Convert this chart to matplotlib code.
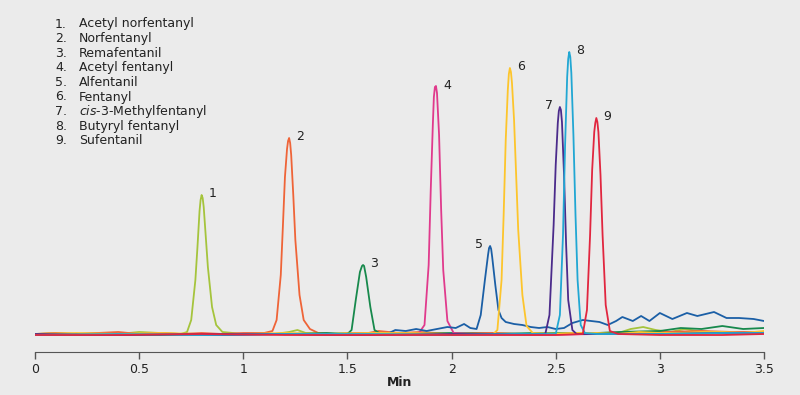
import matplotlib
matplotlib.use("Agg")
import matplotlib.pyplot as plt

plt.rcParams['font.family'] = ['DejaVu Sans']
plt.rcParams['mathtext.fontset'] = 'dejavusans'

# compound names (peak numbers 1..9)
names = ['Acetyl norfentanyl', 'Norfentanyl', 'Remafentanil', 'Acetyl fentanyl',
         'Alfentanil', 'Fentanyl', r'$\mathit{cis}$-3-Methylfentanyl',
         'Butyryl fentanyl', 'Sufentanil']
colors = ['#a5c43c', '#ef6438', '#17894c', '#e03a8c', '#1b5fa6',
          '#fdc52c', '#4b2b8b', '#21a7d3', '#e1263f']

# traces: time (min), signal (arbitrary units)
t1 = [0.0, 0.1, 0.2, 0.3, 0.4, 0.5, 0.6, 0.7, 0.73, 0.75, 0.77, 0.78, 0.79, 0.795, 0.80, 0.805, 0.81, 0.82,
      0.83, 0.85, 0.87, 0.90, 1.0, 1.1, 1.15, 1.22, 1.26, 1.30, 1.4, 1.5, 1.6, 1.7, 1.8, 1.9, 2.0, 2.1, 2.2,
      2.3, 2.4, 2.5, 2.6, 2.7, 2.8, 2.86, 2.92, 2.98, 3.05, 3.12, 3.18, 3.25, 3.35, 3.5]
y1 = [1, 2, 1, 2, 1, 3, 2, 1, 3, 15, 55, 88, 124, 135, 140, 137, 128, 98,
      68, 28, 10, 3, 1, 2, 1, 3, 5, 2, 1, 2, 1, 2, 1, 2, 1, 1, 2,
      1, 1, 2, 2, 1, 2, 6, 8, 5, 3, 6, 4, 3, 2, 3]

t2 = [0.0, 0.1, 0.2, 0.3, 0.4, 0.5, 0.6, 0.7, 0.8, 0.9, 1.0, 1.1, 1.14, 1.16, 1.18, 1.19, 1.20, 1.21,
      1.215, 1.22, 1.225, 1.23, 1.24, 1.25, 1.27, 1.29, 1.32, 1.36, 1.45, 1.55, 1.6, 1.65, 1.75, 1.85, 2.0,
      2.1, 2.2, 2.35, 2.5, 2.65, 2.8, 3.0, 3.2, 3.35, 3.5]
y2 = [1, 2, 1, 2, 3, 1, 2, 1, 2, 1, 2, 2, 4, 15, 60, 108, 158, 186,
      194, 197, 192, 180, 140, 95, 40, 15, 6, 2, 1, 2, 2, 4, 2, 3, 1,
      2, 2, 1, 1, 2, 2, 3, 4, 3, 3]

t3 = [0.0, 0.3, 0.6, 0.9, 1.2, 1.4, 1.5, 1.52, 1.54, 1.56, 1.57, 1.575, 1.58, 1.59, 1.61, 1.63, 1.66, 1.8,
      2.0, 2.2, 2.4, 2.6, 2.8, 3.0, 3.1, 3.2, 3.3, 3.4, 3.5]
y3 = [0, 1, 0, 1, 1, 2, 1, 5, 35, 63, 69, 70, 69, 58, 28, 5, 1, 1,
      2, 1, 2, 1, 3, 4, 7, 6, 9, 6, 7]

t4 = [0.0, 0.3, 0.6, 0.9, 1.2, 1.5, 1.7, 1.84, 1.87, 1.89, 1.90, 1.91, 1.915, 1.92, 1.925, 1.93, 1.94, 1.95,
      1.96, 1.98, 2.01, 2.1, 2.4, 2.7, 3.0, 3.3, 3.5]
y4 = [1, 0, 1, 0, 1, 0, 1, 1, 10, 70, 145, 210, 238, 248, 249, 242, 200, 125,
      65, 14, 2, 1, 0, 1, 1, 2, 2]

t5 = [0.0, 0.3, 0.6, 0.9, 1.2, 1.5, 1.65, 1.70, 1.73, 1.78, 1.83, 1.88, 1.93, 1.98, 2.02, 2.06, 2.09, 2.12,
      2.14, 2.16, 2.175, 2.18, 2.185, 2.19, 2.195, 2.21, 2.225, 2.24, 2.26, 2.30, 2.34, 2.38, 2.42, 2.46,
      2.50, 2.54, 2.58, 2.63, 2.67, 2.71, 2.75, 2.79, 2.82, 2.87, 2.91, 2.95, 3.0, 3.06, 3.13, 3.18, 3.22,
      3.26, 3.32, 3.38, 3.45, 3.5]
y5 = [1, 0, 1, 0, 1, 0, 1, 2, 5, 4, 6, 4, 6, 8, 7, 11, 7, 6,
      20, 55, 80, 87, 89, 86, 78, 50, 25, 17, 13, 11, 10, 8, 7, 8,
      6, 7, 12, 15, 14, 13, 10, 14, 18, 14, 19, 14, 22, 16, 22, 19, 21,
      23, 17, 17, 16, 14]

t6 = [0.0, 0.2, 0.4, 0.6, 0.8, 1.0, 1.2, 1.4, 1.6, 1.8, 2.0, 2.2, 2.22, 2.24, 2.25, 2.26, 2.27, 2.275,
      2.28, 2.285, 2.29, 2.30, 2.31, 2.32, 2.34, 2.36, 2.39, 2.5, 2.6, 2.7, 2.8, 2.9, 3.0, 3.1, 3.2, 3.3,
      3.4, 3.5]
y6 = [1, 2, 1, 2, 1, 1, 2, 1, 2, 2, 1, 1, 5, 55, 120, 195, 245, 261,
      267, 263, 252, 215, 160, 105, 40, 9, 2, 1, 2, 2, 1, 3, 2, 2, 3, 3,
      2, 4]

t7 = [0.0, 0.4, 0.8, 1.2, 1.6, 2.0, 2.3, 2.45, 2.47, 2.49, 2.50, 2.51, 2.515, 2.52, 2.525, 2.53, 2.54, 2.55,
      2.56, 2.58, 2.60, 2.7, 3.0, 3.3, 3.5]
y7 = [1, 0, 1, 1, 0, 1, 1, 1, 20, 110, 170, 212, 224, 228, 225, 213, 160, 90,
      35, 5, 1, 1, 1, 2, 2]

t8 = [0.0, 0.4, 0.8, 1.2, 1.6, 2.0, 2.3, 2.5, 2.52, 2.535, 2.545, 2.555, 2.56, 2.565, 2.57, 2.575, 2.585,
      2.595, 2.605, 2.62, 2.64, 2.7, 3.0, 3.3, 3.5]
y8 = [0, 1, 0, 1, 1, 0, 1, 1, 20, 100, 190, 258, 276, 283, 278, 262, 200,
      120, 55, 10, 2, 1, 1, 2, 2]

t9 = [0.0, 0.4, 0.8, 1.2, 1.6, 2.0, 2.3, 2.5, 2.63, 2.65, 2.665, 2.675, 2.685, 2.69, 2.695, 2.70, 2.705,
      2.715, 2.725, 2.74, 2.76, 2.8, 3.0, 3.3, 3.5]
y9 = [0, 0, 1, 0, 0, 0, 0, 0, 1, 25, 100, 165, 203, 212, 217, 213, 203,
      160, 100, 30, 4, 1, 0, 0, 1]

# peak apex (time, height) for the number labels
peak_t = [0.80, 1.22, 1.575, 1.925, 2.185, 2.28, 2.52, 2.565, 2.695]
peak_h = [140, 197, 70, 248, 89, 267, 228, 283, 217]

traces = [(t1, y1), (t2, y2), (t3, y3), (t4, y4), (t5, y5),
          (t6, y6), (t7, y7), (t8, y8), (t9, y9)]

bg = '#ebebeb'
fig = plt.figure(figsize=(8, 3.95), dpi=100, facecolor=bg)
ax = fig.add_axes([35 / 800, 43 / 395, 729 / 800, 332 / 395])
ax.set_facecolor(bg)

for (t, y), c in zip(traces, colors):
    ax.plot(t, y, color=c, lw=1.3, solid_joinstyle='round')

# peak numbers
for i in range(9):
    if i in (4, 6):
        ax.annotate(str(i + 1), (peak_t[i], peak_h[i]), xytext=(-5, 1), textcoords='offset points',
                    ha='right', va='center', fontsize=9, color='#222222')
    else:
        ax.annotate(str(i + 1), (peak_t[i], peak_h[i]), xytext=(5, 1), textcoords='offset points',
                    ha='left', va='center', fontsize=9, color='#222222')

ax.set_xlim(0, 3.5)
ax.set_ylim(-17, 315)
ax.set_xticks([0, 0.5, 1, 1.5, 2, 2.5, 3, 3.5])
ax.set_xticklabels(['0', '0.5', '1', '1.5', '2', '2.5', '3', '3.5'])
ax.set_yticks([])
for s in ['left', 'top', 'right']:
    ax.spines[s].set_visible(False)
ax.spines['bottom'].set_color('#555555')
ax.tick_params(axis='x', direction='out', length=5, width=1, color='#555555',
               labelsize=9, labelcolor='#222222', pad=3)
ax.set_xlabel('Min', fontsize=9, fontweight='bold', color='#222222', labelpad=0)

# legend list in the top-left corner
for i, n in enumerate(names):
    yy = 1 - (24 + i * 14.6) / 395
    fig.text(67 / 800, yy, str(i + 1) + '.', ha='right', va='center', fontsize=9, color='#222222')
    fig.text(79 / 800, yy, n, ha='left', va='center', fontsize=9, color='#222222')

fig.savefig('out.png', dpi=100, facecolor=bg)
